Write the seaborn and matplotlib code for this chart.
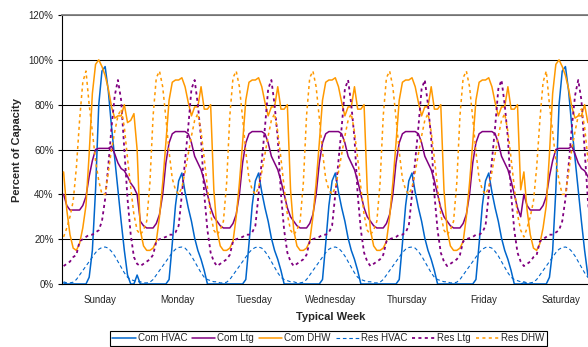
import numpy as np
import pandas as pd
import matplotlib
matplotlib.use("Agg")
import matplotlib.pyplot as plt
import seaborn as sns
from matplotlib.ticker import FuncFormatter

# ---------------- data (percent of capacity, hourly) ----------------
days = ["Sunday", "Monday", "Tuesday", "Wednesday", "Thursday", "Friday", "Saturday"]
day_type = ["weekend", "weekday", "weekday", "weekday", "weekday", "weekday", "weekend"]

com_hvac_weekend = [0.5, 0, 0, 0, 0, 0, 0, 0, 3, 15, 42, 80, 95, 97, 86, 70, 56, 42, 28, 15, 4, 0, 0, 4]
com_hvac_weekday = [0, 0, 0, 0, 0, 0, 0, 0, 0, 2, 18, 35, 46, 49.5, 41, 34, 28, 20.5, 15, 11, 6, 0, 0, 0]

com_ltg_weekend = [40, 35, 33, 33, 33, 33, 35, 39, 48, 55, 60, 60.5, 60.5, 60.5, 60.5, 61.5, 58, 54, 51.5, 50.5, 48, 45, 43, 40]
com_ltg_weekday = [28, 26, 25, 25, 25, 27, 31, 40, 54, 63, 67, 68, 68, 68, 68, 67, 63, 57, 54, 51, 46, 40, 34, 30]

com_dhw_weekend = [50, 33, 22, 16, 15, 18, 25, 35, 58, 85, 98, 100, 97, 93, 87, 79, 74, 75, 75, 80, 72, 73, 76, 60]
com_dhw_weekday = [24, 17, 15, 15, 16, 19, 30, 45, 63, 82, 90, 91, 91, 92, 88, 81, 75, 79, 79, 88, 78, 78, 80, 42]

res_hvac_weekend = [1, 0.5, 0.5, 0.8, 2, 4, 6, 8, 10, 12, 14, 15.5, 16.3, 16.5, 16, 14.5, 12.5, 10, 7.5, 5, 3, 2, 1.5, 1]
res_hvac_weekday = [1, 0.5, 0.5, 0.8, 2, 4, 6, 8, 10, 12, 14, 15.5, 16.3, 16.5, 16, 14.5, 12.5, 10, 7.5, 5, 3, 2, 1.5, 1]

res_ltg_weekend = [8, 9, 10, 12, 13, 19, 20, 21, 22, 22, 23, 24, 28, 38, 53, 70, 84, 91, 82, 60, 38, 22, 12, 9]
res_ltg_weekday = [8, 9, 10, 11, 13, 19, 20, 20.5, 21, 22, 22, 23, 26, 40, 55, 70, 87, 91, 80, 65, 40, 24, 14, 10]

res_dhw_weekend = [21, 25, 30, 37, 52, 73, 90, 95, 80, 68, 55, 46, 40, 40, 50, 60, 68, 75, 78, 70, 56, 43, 31, 24]
res_dhw_weekday = [22, 24, 28, 45, 75, 92, 95, 88, 74, 59, 47, 42, 40, 43, 50, 58, 66, 73, 76, 68, 56, 43, 31, 24]

series_names = ["Com HVAC", "Com Ltg", "Com DHW", "Res HVAC", "Res Ltg", "Res DHW"]
profiles = {
    "Com HVAC": {"weekend": com_hvac_weekend, "weekday": com_hvac_weekday},
    "Com Ltg": {"weekend": com_ltg_weekend, "weekday": com_ltg_weekday},
    "Com DHW": {"weekend": com_dhw_weekend, "weekday": com_dhw_weekday},
    "Res HVAC": {"weekend": res_hvac_weekend, "weekday": res_hvac_weekday},
    "Res Ltg": {"weekend": res_ltg_weekend, "weekday": res_ltg_weekday},
    "Res DHW": {"weekend": res_dhw_weekend, "weekday": res_dhw_weekday},
}

rows = []
for name in series_names:
    vals = []
    for dt in day_type:
        vals.extend(profiles[name][dt])
    for i, v in enumerate(vals):
        rows.append({"hour": i, "value": v, "series": name})
df = pd.DataFrame(rows)

# ---------------- styling ----------------
sns.set_style("white")
plt.rcParams["font.family"] = ["Liberation Sans", "DejaVu Sans"]
plt.rcParams["lines.scale_dashes"] = False

styles = {
    "Com HVAC": dict(color="#0066CC", lw=1.1, dashes=None),
    "Com Ltg": dict(color="#800080", lw=1.1, dashes=None),
    "Com DHW": dict(color="#FF9900", lw=1.1, dashes=None),
    "Res HVAC": dict(color="#0066CC", lw=0.8, dashes=(2.6, 2.0)),
    "Res Ltg": dict(color="#800080", lw=1.3, dashes=(2.2, 2.4)),
    "Res DHW": dict(color="#FF9900", lw=1.1, dashes=(2.2, 2.4)),
}

W, H = 588, 347
fig = plt.figure(figsize=(W / 100, H / 100), dpi=100)
ax = fig.add_axes([62 / W, 1 - 284 / H, 537 / W, 269 / H])

for name in series_names:
    st = styles[name]
    sub = df[df["series"] == name]
    sns.lineplot(data=sub, x="hour", y="value", ax=ax, color=st["color"],
                 linewidth=st["lw"], label=name, legend=False, zorder=3)
    if st["dashes"] is not None:
        ax.lines[-1].set_dashes(st["dashes"])

if ax.get_legend() is not None:
    ax.get_legend().remove()

n = len(days) * 24
ax.set_xlim(-0.5, n - 0.5)
ax.set_ylim(0, 120)

boundaries = [24 * k - 0.5 for k in range(1, 7)]
centers = [24 * k + 11.5 for k in range(7)]
ax.set_xticks(boundaries)
ax.set_xticklabels([])
ax.set_xticks(centers, minor=True)
ax.set_xticklabels(days, minor=True, fontsize=7)
ax.tick_params(axis="x", which="major", length=3, width=0.8, direction="out", color="black")
ax.tick_params(axis="x", which="minor", length=0, pad=8)

ax.set_yticks(range(0, 121, 20))
ax.yaxis.set_major_formatter(FuncFormatter(lambda v, p: f"{int(v)}%"))
ax.tick_params(axis="y", which="major", length=3, width=0.8, direction="out",
               labelsize=7, pad=3, color="black", left=True)

ax.yaxis.grid(True, color="black", linewidth=0.75)
ax.xaxis.grid(False)
ax.set_axisbelow(True)

ax.set_xlabel("")
ax.set_ylabel("")
for s in ["left", "bottom"]:
    ax.spines[s].set_color("black")
    ax.spines[s].set_linewidth(0.8)
ax.spines["top"].set_color("#808080")
ax.spines["top"].set_linewidth(1.3)
ax.spines["right"].set_visible(False)

fig.text(17 / W, 1 - 149.5 / H, "Percent of Capacity", rotation=90,
         ha="center", va="center", fontsize=8, fontweight="bold")
fig.text(330.5 / W, 1 - 316.5 / H, "Typical Week",
         ha="center", va="center", fontsize=8, fontweight="bold")

handles = ax.get_lines()[:len(series_names)]
leg = fig.legend(handles, series_names, loc="lower center",
                 bbox_to_anchor=(328.5 / W, 1.5 / H), ncol=6, fontsize=7,
                 frameon=True, fancybox=False, shadow=False, framealpha=1,
                 edgecolor="black", handlelength=2.4, handletextpad=0.2,
                 columnspacing=0.5, borderpad=0.25, borderaxespad=0)
leg.get_frame().set_linewidth(0.8)

fig.savefig("out.png", dpi=100)
